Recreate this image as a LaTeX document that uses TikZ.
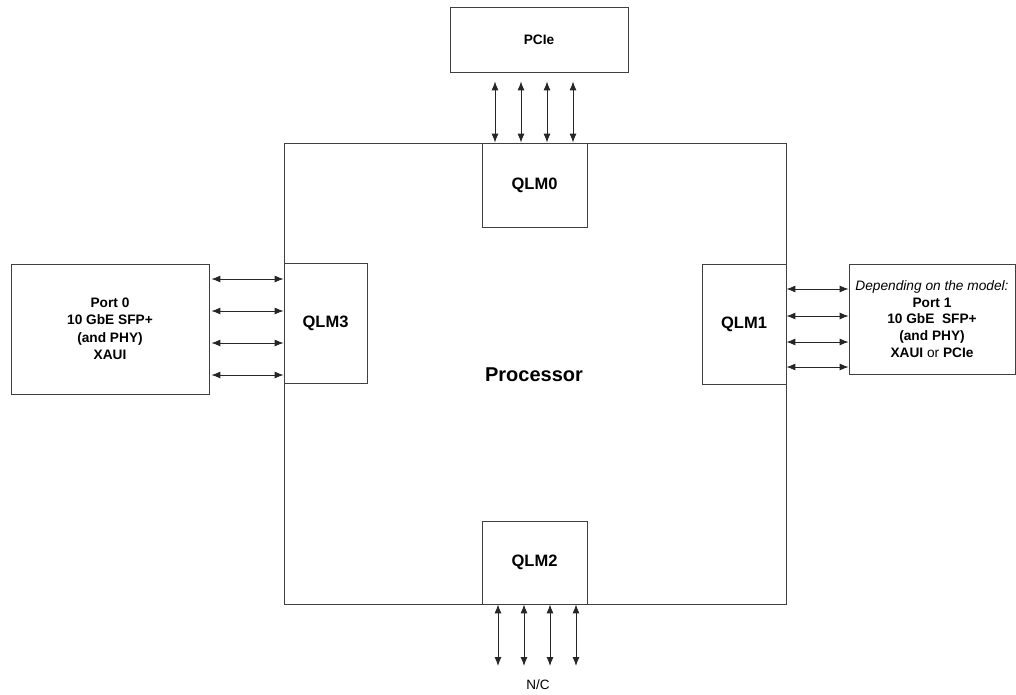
\documentclass[tikz,border=0pt]{standalone}
\usepackage{fontspec}
\setmainfont{Liberation Sans}
\usetikzlibrary{arrows.meta}
\begin{document}
\begin{tikzpicture}[x=1pt,y=-1pt,
  box/.style={draw=black!75, line width=0.8pt, fill=white, rectangle, inner sep=0pt, align=center, font=\fontsize{13.7}{17.5}\selectfont\bfseries},
  qlm/.style={box, font=\fontsize{16.5}{19}\selectfont\bfseries},
  biarrow/.style={draw=black!85, line width=0.9pt, {Latex[length=9pt,width=7pt]}-{Latex[length=9pt,width=7pt]}},
  lbl/.style={font=\fontsize{13.5}{15}\selectfont, inner sep=0pt}
]
\useasboundingbox (0,0) rectangle (1016,694);
% processor
\node[box, minimum width=502pt, minimum height=461pt] (proc) at (535,373.5) {};
\node[font=\fontsize{20}{24}\selectfont\bfseries, inner sep=0pt] (proclbl) at (534,375) {Processor};
% QLMs
\node[qlm, minimum width=105pt, minimum height=84pt] (qlm0) at (534.5,185) {QLM0};
\node[qlm, minimum width=105pt, minimum height=83pt] (qlm2) at (534.5,562.5) {QLM2};
\node[qlm, minimum width=83pt, minimum height=120pt] (qlm3) at (325.5,323) {QLM3};
\node[qlm, minimum width=84pt, minimum height=120pt] (qlm1) at (744,324) {QLM1};
% external boxes
\node[box, minimum width=178pt, minimum height=65pt] (pcie) at (539,39.5) {PCIe};
\node[box, minimum width=198pt, minimum height=130pt] (port0) at (110,329) {Port 0\\10 GbE SFP+\\(and PHY)\\XAUI};
\node[box, minimum width=166pt, minimum height=110pt, font=\fontsize{13.7}{16.7}\selectfont\bfseries] (port1) at (932,319) {\textmd{\itshape Depending on the model:}\\Port 1\\10 GbE\ \ SFP+\\(and PHY)\\XAUI \textmd{or} PCIe};
% top arrows
\foreach \x in {495,521,547,573}
  \draw[biarrow, shorten <=9pt] (pcie.south -| \x,0) -- (qlm0.north -| \x,0);
% left arrows
\foreach \y in {279,311,343,375}
  \draw[biarrow, shorten <=2pt] (port0.east |- 0,\y) -- (qlm3.west |- 0,\y);
% right arrows
\foreach \y in {289,316,342,367}
  \draw[biarrow] (qlm1.east |- 0,\y) -- (port1.west |- 0,\y);
% bottom arrows
\foreach \x [count=\i] in {498,524,550,576} {
  \coordinate (nc\i) at (\x,666);
  \draw[biarrow] (qlm2.south -| nc\i) -- (nc\i);
}
\node[lbl] (nc) at (538,685) {N/C};
\end{tikzpicture}
\end{document}
